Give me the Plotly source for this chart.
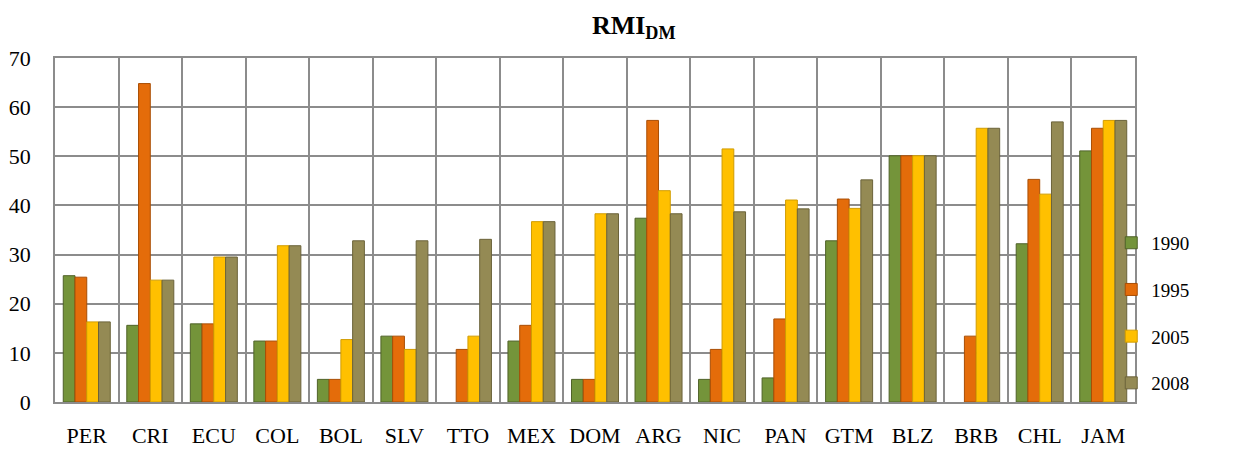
import plotly.graph_objects as go

# Countries on the x axis
countries = ["PER", "CRI", "ECU", "COL", "BOL", "SLV", "TTO", "MEX", "DOM",
             "ARG", "NIC", "PAN", "GTM", "BLZ", "BRB", "CHL", "JAM"]

# RMI_DM index by year (None = no value reported)
rmi_1990 = [25.7, 15.6, 15.9, 12.4, 4.6, 13.4, None, 12.4, 4.6,
            37.4, 4.6, 4.9, 32.8, 50.1, None, 32.2, 51.1]
rmi_1995 = [25.4, 64.8, 15.9, 12.4, 4.6, 13.4, 10.7, 15.6, 4.6,
            57.3, 10.7, 16.9, 41.3, 50.1, 13.4, 45.3, 55.7]
rmi_2005 = [16.3, 24.8, 29.5, 31.8, 12.7, 10.7, 13.4, 36.7, 38.3,
            43.0, 51.5, 41.1, 39.4, 50.1, 55.7, 42.3, 57.3]
rmi_2008 = [16.3, 24.8, 29.5, 31.8, 32.8, 32.8, 33.1, 36.7, 38.3,
            38.3, 38.7, 39.3, 45.2, 50.1, 55.7, 57.0, 57.3]

series = [
    ("1990", rmi_1990, "#74943a", "#4f6228"),
    ("1995", rmi_1995, "#e46c0a", "#a94e05"),
    ("2005", rmi_2005, "#ffc000", "#d19c00"),
    ("2008", rmi_2008, "#948a54", "#6b633a"),
]

serif = "Liberation Serif, Times New Roman, serif"

fig = go.Figure()
for name, vals, color, edge in series:
    fig.add_trace(go.Bar(
        x=countries, y=vals, name=name, legendgroup=name,
        marker=dict(color=color, line=dict(color=edge, width=1)),
    ))

fig.update_layout(
    width=1233, height=451,
    margin=dict(l=55, r=98, t=58, b=49),
    paper_bgcolor="white", plot_bgcolor="white",
    barmode="group", bargap=0.26, bargroupgap=0.0,
    title=dict(text="<b>RMI<sub>DM</sub></b>", x=0.514, xanchor="center",
               y=0.945, yanchor="middle",
               font=dict(family=serif, size=26, color="black")),
    font=dict(family=serif, size=20, color="black"),
    legend=dict(x=0.978, y=0.259, xanchor="left", yanchor="middle",
                bgcolor="rgba(0,0,0,0)",
                font=dict(family=serif, size=19, color="black"),
                tracegroupgap=19, itemwidth=30, traceorder="grouped"),
    xaxis=dict(type="category", tickson="boundaries", showgrid=True,
               gridcolor="#8c8c8c", gridwidth=1.5, showline=True,
               linecolor="#8c8c8c", linewidth=1.5, mirror=True,
               ticks="", ticklabelstandoff=13, automargin=False,
               tickfont=dict(family=serif, size=22)),
    yaxis=dict(range=[0, 70], dtick=10, showgrid=True, gridcolor="#8c8c8c",
               gridwidth=1.5, showline=True, linecolor="#8c8c8c",
               linewidth=1.5, mirror=True, ticks="", zeroline=False,
               ticklabelstandoff=18, automargin=False,
               tickfont=dict(family=serif, size=22)),
)

fig.write_html("out.html")
